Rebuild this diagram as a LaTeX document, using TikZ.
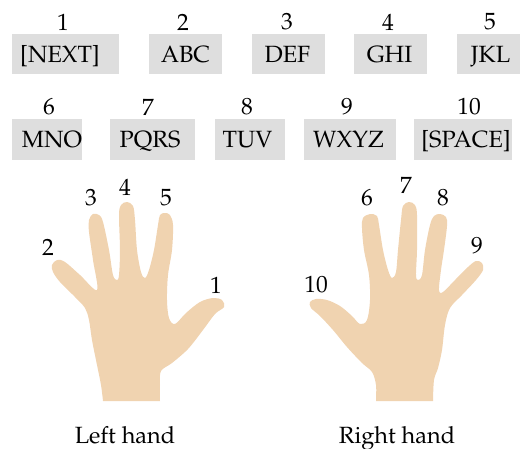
\documentclass[tikz,border=0pt]{standalone}
\usepackage[T1]{fontenc}
\renewcommand{\rmdefault}{ppl}
\definecolor{keygray}{RGB}{222,222,222}
\definecolor{skin}{RGB}{240,211,176}
\begin{document}
\begin{tikzpicture}[x=1pt,y=-1pt,
  txt/.style={font=\fontsize{23.5}{28}\selectfont, inner sep=0pt},
  keybox/.style={fill=keygray, inner sep=0pt},
  keytext/.style={txt, text height=17pt, text depth=0pt},
  num/.style={txt},
  hand/.style={fill=skin, draw=none}]
\useasboundingbox (0,0) rectangle (520,448);

% key boxes, first row
\node[keybox, minimum width=107pt, minimum height=40pt] (k1)  at (65.5,54)  {};
\node[keybox, minimum width=73pt,  minimum height=40pt] (k2)  at (185.5,54) {};
\node[keybox, minimum width=73pt,  minimum height=40pt] (k3)  at (288.5,54) {};
\node[keybox, minimum width=73pt,  minimum height=40pt] (k4)  at (390.5,54) {};
\node[keybox, minimum width=66pt,  minimum height=40pt] (k5)  at (490,54)   {};
% key boxes, second row
\node[keybox, minimum width=70pt,  minimum height=41pt] (k6)  at (47,139)   {};
\node[keybox, minimum width=85pt,  minimum height=41pt] (k7)  at (152.5,139){};
\node[keybox, minimum width=70pt,  minimum height=41pt] (k8)  at (250,139)  {};
\node[keybox, minimum width=92pt,  minimum height=41pt] (k9)  at (350,139)  {};
\node[keybox, minimum width=98pt,  minimum height=41pt] (k10) at (463,139)  {};

% key letters
\node[keytext] (t1)  at (60,54)    {[NEXT]};
\node[keytext] (t2)  at (185.5,54) {ABC};
\node[keytext] (t3)  at (287.5,54) {DEF};
\node[keytext] (t4)  at (389.5,54) {GHI};
\node[keytext] (t5)  at (490.5,54) {JKL};
\node[keytext] (t6)  at (52,139)   {MNO};
\node[keytext] (t7)  at (150,139)  {PQRS};
\node[keytext] (t8)  at (247.5,139){TUV};
\node[keytext] (t9)  at (348.5,139){WXYZ};
\node[keytext] (t10) at (466,139)  {[SPACE]};

% key numbers
\node[num] (n1)  at (63,22)  {1};
\node[num] (n2)  at (183,22) {2};
\node[num] (n3)  at (287,22) {3};
\node[num] (n4)  at (388,22) {4};
\node[num] (n5)  at (490,22) {5};
\node[num] (n6)  at (49,107) {6};
\node[num] (n7)  at (148,107){7};
\node[num] (n8)  at (247,107){8};
\node[num] (n9)  at (347,107){9};
\node[num] (n10) at (469,107){10};

% left hand
\fill[hand] plot[smooth, tension=0.55] coordinates {
  (160,401) (160,385) (161,371) (172,363) (188,349) (203,330) (215,314)
  (224,307) (222,300) (213,298) (200,302) (186,313) (175,324)
  (169,318) (167,300) (168,275) (172,250) (173,225) (170,215) (165,213)
  (160,215) (158,225) (154,250) (149,270) (145,278)
  (141,272) (137,250) (135,220) (133,206) (127,202) (121,205) (119,215)
  (120,250) (119,275) (117,280)
  (113,275) (109,250) (103,222) (99,215) (93,214) (89,220) (89,232)
  (93,260) (97,290)
  (80,275) (65,262) (57,260) (52,265) (53,272) (60,282) (75,297)
  (85,308) (89,320) (92,340) (97,365) (101,385) (103,401)
} -- cycle;

% right hand
\fill[hand] plot[smooth, tension=0.55] coordinates {
  (376,401) (376,385) (372,372) (362,363) (347,347) (333,330) (320,316)
  (311,308) (310,302) (316,299) (327,300) (340,306) (352,316) (360,324)
  (367,320) (370,300) (369,275) (364,250) (362,228) (363,218) (370,214)
  (377,216) (379,225) (383,250) (388,270) (392,278)
  (396,272) (398,250) (401,220) (403,206) (409,202) (415,205) (417,215)
  (417,250) (416,275) (418,280)
  (422,275) (425,250) (430,225) (434,216) (440,214) (446,217) (447,226)
  (444,250) (441,270) (439,290)
  (443,292) (455,280) (468,267) (476,261) (482,263) (483,270) (476,280)
  (462,295) (450,308) (445,325) (442,350) (438,368) (434,380) (433,401)
} -- cycle;

% finger numbers
\node[num] (f1)  at (216,285) {1};
\node[num] (f2)  at (48,247)  {2};
\node[num] (f3)  at (91,198)  {3};
\node[num] (f4)  at (125,187) {4};
\node[num] (f5)  at (166,198) {5};
\node[num] (f6)  at (367,198) {6};
\node[num] (f7)  at (406,185) {7};
\node[num] (f8)  at (443,198) {8};
\node[num] (f9)  at (477,246) {9};
\node[num] (f10) at (316,285) {10};

% captions
\node[txt, anchor=base] (lh) at (125,443) {Left hand};
\node[txt, anchor=base] (rh) at (397,443) {Right hand};
\end{tikzpicture}
\end{document}
